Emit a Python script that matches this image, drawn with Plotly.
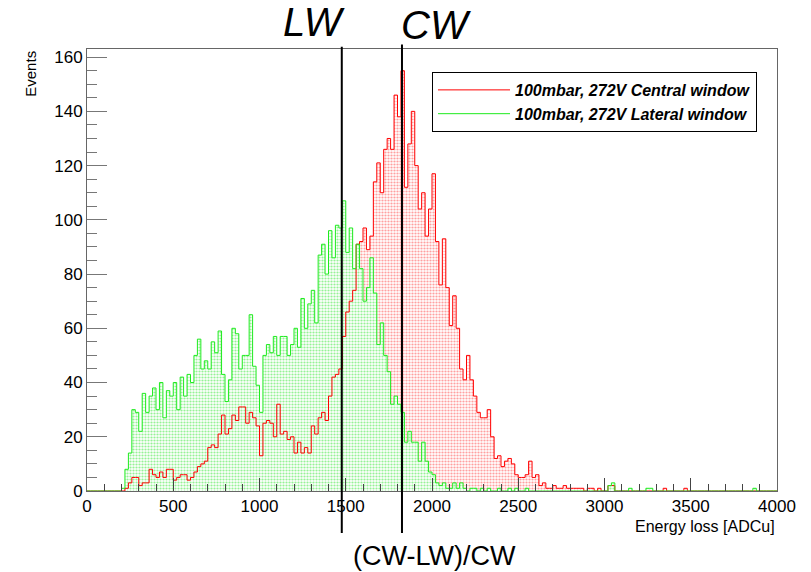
import plotly.graph_objects as go

# ---------------- data (20 ADCu bins from 0 to 4000) ----------------
BIN_START = 0
BIN_WIDTH = 20
N_BINS = 200

central_window = [
    0, 0, 0, 0, 0, 0, 0, 0, 0, 0,
    0, 1, 3, 5, 5, 2, 3, 3, 8, 6,
    5, 7, 5, 8, 8, 4, 5, 6, 6, 4,
    5, 7, 9, 10, 11, 16, 17, 16, 21, 28,
    21, 23, 28, 26, 31, 31, 25, 29, 27, 24,
    13, 25, 26, 25, 20, 32, 21, 22, 19, 20,
    14, 18, 14, 16, 14, 24, 21, 27, 29, 26,
    35, 42, 43, 45, 57, 66, 70, 74, 91, 92,
    97, 89, 94, 114, 121, 110, 126, 130, 126, 146,
    138, 155, 112, 128, 140, 120, 104, 110, 94, 104,
    117, 92, 76, 93, 75, 61, 72, 60, 45, 41,
    50, 41, 35, 29, 27, 27, 30, 20, 12, 13,
    9, 11, 12, 10, 6, 5, 5, 6, 11, 5,
    6, 2, 3, 1, 1, 2, 1, 1, 2, 1,
    1, 1, 1, 1, 0, 1, 1, 0, 1, 0,
    0, 2, 2, 0, 0, 0, 0, 0, 0, 0,
    0, 0, 0, 0, 0, 0, 0, 1, 0, 0,
    0, 0, 0, 1, 0, 0, 0, 0, 0, 0,
    0, 0, 0, 0, 0, 0, 0, 0, 0, 0,
    0, 0, 0, 0, 0, 0, 0, 0, 0, 0,
]

lateral_window = [
    0, 0, 0, 0, 0, 0, 0, 0, 0, 0,
    1, 8, 14, 30, 29, 22, 36, 29, 35, 38,
    30, 40, 27, 37, 35, 40, 30, 42, 35, 43,
    40, 50, 56, 45, 48, 45, 55, 51, 59, 43,
    33, 41, 60, 58, 45, 50, 50, 65, 46, 39,
    29, 50, 54, 51, 57, 50, 57, 57, 50, 54,
    60, 53, 71, 60, 69, 74, 62, 87, 91, 80,
    96, 86, 98, 97, 107, 88, 97, 82, 91, 82,
    70, 75, 86, 73, 54, 62, 50, 44, 32, 35,
    32, 29, 18, 22, 18, 18, 11, 18, 11, 7,
    6, 3, 2, 3, 1, 1, 3, 1, 3, 1,
    0, 1, 1, 0, 1, 0, 1, 0, 0, 1,
    0, 0, 1, 0, 1, 0, 0, 1, 0, 0,
    0, 0, 0, 0, 0, 0, 0, 0, 0, 0,
    0, 0, 0, 0, 0, 0, 0, 0, 0, 0,
    0, 2, 3, 0, 0, 0, 0, 1, 0, 0,
    0, 0, 1, 1, 0, 0, 0, 0, 0, 0,
    0, 0, 0, 0, 0, 0, 0, 0, 0, 0,
    0, 0, 0, 0, 0, 0, 0, 0, 0, 0,
    0, 0, 0, 1, 0, 0, 0, 0, 0, 0,
]

x_ticks = [0, 500, 1000, 1500, 2000, 2500, 3000, 3500, 4000]
y_ticks = [0, 20, 40, 60, 80, 100, 120, 140, 160]

LW_POS = 1477   # lateral window peak
CW_POS = 1826   # central window peak

NAME_CW = "100mbar, 272V Central window"
NAME_LW = "100mbar, 272V Lateral window"

RED = "rgb(255,0,0)"
GREEN = "rgb(30,235,30)"

edges = [BIN_START + i * BIN_WIDTH for i in range(N_BINS + 1)]


def step_y(counts):
    return list(counts) + [counts[-1]]


fig = go.Figure()

# filled areas (dotted pattern, ROOT style)
fig.add_trace(go.Scatter(
    x=edges, y=step_y(central_window), mode="lines", line_shape="hv",
    line=dict(width=0, color=RED), fill="tozeroy",
    fillcolor="rgba(0,0,0,0)",
    fillpattern=dict(shape=".", fgcolor="rgb(255,160,160)", bgcolor="white",
                     size=3, solidity=0.42, fillmode="replace"),
    showlegend=False, hoverinfo="skip"))
fig.add_trace(go.Scatter(
    x=edges, y=step_y(lateral_window), mode="lines", line_shape="hv",
    line=dict(width=0, color=GREEN), fill="tozeroy",
    fillcolor="rgba(0,0,0,0)",
    fillpattern=dict(shape=".", fgcolor="rgb(150,242,150)", bgcolor="white",
                     size=3, solidity=0.42, fillmode="replace"),
    showlegend=False, hoverinfo="skip"))

# outlines
fig.add_trace(go.Scatter(
    x=edges, y=step_y(central_window), mode="lines", line_shape="hv",
    line=dict(width=1, color=RED), name=NAME_CW))
fig.add_trace(go.Scatter(
    x=edges, y=step_y(lateral_window), mode="lines", line_shape="hv",
    line=dict(width=1, color=GREEN), name=NAME_LW))

AXC = "#666666"
fig.update_xaxes(
    range=[0, 4000], tickvals=x_ticks, ticks="inside", ticklen=13, tickwidth=1,
    tickcolor="#444", showline=True, linecolor=AXC, linewidth=1, mirror=True,
    showgrid=False, zeroline=False,
    minor=dict(dtick=100, ticks="inside", ticklen=7, tickcolor="#444", showgrid=False),
    tickfont=dict(family="Liberation Sans", size=17, color="black"))
fig.update_yaxes(
    range=[0, 163], tickvals=y_ticks, ticks="inside", ticklen=20, tickwidth=1,
    tickcolor="#777", showline=True, linecolor=AXC, linewidth=1, mirror=True,
    showgrid=False, zeroline=False,
    minor=dict(dtick=5, ticks="inside", ticklen=10, tickcolor="#777", showgrid=False),
    tickfont=dict(family="Liberation Sans", size=17, color="black"))

fig.add_shape(type="line", xref="x", yref="paper", x0=LW_POS, x1=LW_POS,
              y0=-0.095, y1=1.005, line=dict(color="black", width=2))
fig.add_shape(type="line", xref="x", yref="paper", x0=CW_POS, x1=CW_POS,
              y0=-0.095, y1=1.01, line=dict(color="black", width=2))

FONT = "Liberation Sans"
fig.add_annotation(text="LW", xref="paper", yref="paper", x=0.377, y=1.06,
                   xanchor="right", yanchor="middle", showarrow=False,
                   font=dict(family=FONT, size=40, style="italic", color="black"))
fig.add_annotation(text="CW", xref="paper", yref="paper", x=0.452, y=1.055,
                   xanchor="left", yanchor="middle", showarrow=False,
                   font=dict(family=FONT, size=40, style="italic", color="black"))
fig.add_annotation(text="(CW-LW)/CW", xref="paper", yref="paper", x=0.504, y=-0.147,
                   xanchor="center", yanchor="middle", showarrow=False,
                   font=dict(family=FONT, size=27, color="black"))
fig.add_annotation(text="Events", xref="paper", yref="paper", x=-0.083, y=1.0,
                   xanchor="center", yanchor="top", textangle=-90, showarrow=False,
                   font=dict(family=FONT, size=15, color="black"))
fig.add_annotation(text="Energy loss [ADCu]", xref="paper", yref="paper", x=1.0, y=-0.081,
                   xanchor="right", yanchor="middle", showarrow=False,
                   font=dict(family=FONT, size=16, color="black"))

fig.update_layout(
    width=811, height=572,
    margin=dict(l=87, r=34, t=49, b=81),
    paper_bgcolor="white", plot_bgcolor="white",
    showlegend=True,
    legend=dict(x=0.5, y=0.948, xanchor="left", yanchor="top",
                bgcolor="white", bordercolor="black", borderwidth=1,
                itemwidth=72, tracegroupgap=0,
                font=dict(family=FONT, size=16, style="italic", weight="bold", color="black")),
)

fig.write_html("out.html")
